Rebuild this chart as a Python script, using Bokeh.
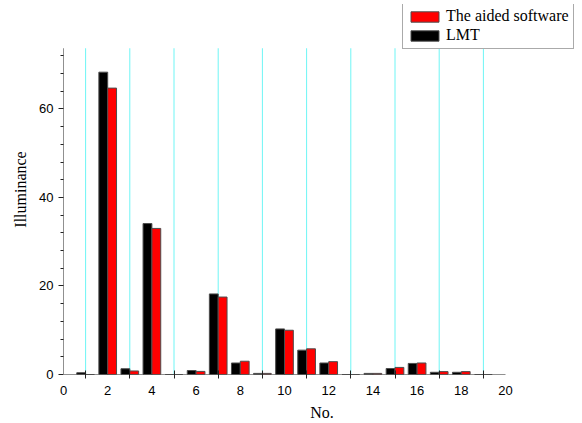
from bokeh.plotting import figure
from bokeh.models import ColumnDataSource, FixedTicker, Range1d, Legend, LegendItem
from bokeh.transform import dodge
from bokeh.embed import file_html
from bokeh.resources import INLINE

# data
positions = list(range(1, 20))
lmt = [0.4, 68.3, 1.3, 34.1, 0, 0.9, 18.2, 2.6, 0.25, 10.3, 5.5, 2.6, 0, 0.25, 1.35, 2.5, 0.5, 0.5, 0]
aided = [0, 64.7, 0.8, 33.0, 0, 0.7, 17.5, 3.0, 0.25, 10.0, 5.8, 2.9, 0, 0.25, 1.6, 2.6, 0.65, 0.65, 0]
x_ticks = [0, 2, 4, 6, 8, 10, 12, 14, 16, 18, 20]
x_minor = [1, 3, 5, 7, 9, 11, 13, 15, 17, 19]
y_ticks = [0, 20, 40, 60]
y_minor = [4, 8, 12, 16, 24, 28, 32, 36, 44, 48, 52, 56, 64, 68, 72]
x_max = 20
y_max = 73.7

# layout (pixels): axes area left/right/top/bottom, extended frame for the legend
W, H = 582, 423
ax_left, ax_right, ax_top, ax_bottom = 63, 505, 48, 376
fr_right, fr_top = 580, 4

x_end = x_max * (fr_right - ax_left) / (ax_right - ax_left)
y_end = y_max * (ax_bottom - fr_top) / (ax_bottom - ax_top)

src = ColumnDataSource(dict(x=positions, lmt=lmt, aided=aided))

p = figure(width=W, height=H, output_backend="svg", toolbar_location=None,
           x_range=Range1d(0, x_end), y_range=Range1d(0, y_end),
           min_border_left=ax_left, min_border_right=W - fr_right,
           min_border_top=fr_top, min_border_bottom=H - ax_bottom)
p.outline_line_color = None
p.background_fill_color = "white"
p.border_fill_color = "white"
p.xgrid.grid_line_color = None
p.ygrid.grid_line_color = None

# cyan grid lines at odd positions, limited to the axes area
p.segment(x0=x_minor, y0=[0] * len(x_minor), x1=x_minor, y1=[y_max] * len(x_minor),
          line_color="#6ef5f5", line_width=1)

r_lmt = p.vbar(x=dodge('x', -0.2), top='lmt', width=0.4, source=src,
               fill_color="black", line_color="#4d4d4d", line_width=1)
r_aided = p.vbar(x=dodge('x', 0.2), top='aided', width=0.4, source=src,
                 fill_color="#ff0000", line_color="#4d4d4d", line_width=1)

# axis lines (limited to data extents)
p.segment(x0=[0, 0], y0=[0, 0], x1=[0, x_max], y1=[y_max, 0],
          line_color="#222222", line_width=1)

# x axis
xa = p.xaxis[0]
xa.ticker = FixedTicker(ticks=x_ticks, minor_ticks=x_minor)
xa.axis_line_color = None
xa.major_tick_in = 0
xa.major_tick_out = 0
xa.minor_tick_in = 4
xa.minor_tick_out = 4
xa.minor_tick_line_color = "#222222"
xa.major_label_standoff = 7
xa.major_label_text_font = "Liberation Sans"
xa.major_label_text_font_size = "13px"
xa.major_label_text_color = "black"
xa.axis_label = "No."
xa.axis_label_text_font = "Liberation Serif"
xa.axis_label_text_font_style = "normal"
xa.axis_label_text_font_size = "16px"
xa.axis_label_standoff = 6
xa.axis_label_text_color = "black"

# y axis
ya = p.yaxis[0]
ya.ticker = FixedTicker(ticks=y_ticks, minor_ticks=y_minor)
ya.axis_line_color = None
ya.major_tick_in = 0
ya.major_tick_out = 5
ya.minor_tick_in = 0
ya.minor_tick_out = 3
ya.major_tick_line_color = "#222222"
ya.minor_tick_line_color = "#222222"
ya.major_label_standoff = 5
ya.major_label_text_font = "Liberation Sans"
ya.major_label_text_font_size = "13px"
ya.major_label_text_color = "black"
ya.axis_label = "Illuminance"
ya.axis_label_text_font = "Liberation Serif"
ya.axis_label_text_font_style = "normal"
ya.axis_label_text_font_size = "16px"
ya.axis_label_standoff = 7
ya.axis_label_text_color = "black"

legend = Legend(items=[LegendItem(label="The aided software", renderers=[r_aided]),
                       LegendItem(label="LMT", renderers=[r_lmt])],
                location=(339, ax_bottom - 51))
legend.border_line_color = "#555555"
legend.border_line_width = 1
legend.background_fill_color = "white"
legend.background_fill_alpha = 1
legend.label_text_font = "Liberation Serif"
legend.label_text_font_size = "16px"
legend.label_text_color = "black"
legend.glyph_width = 35
legend.glyph_height = 13
legend.label_height = 17
legend.label_standoff = 4
legend.spacing = 1
legend.padding = 4
legend.margin = 0
p.add_layout(legend, "center")

open("out.html", "w").write(file_html(p, INLINE))
